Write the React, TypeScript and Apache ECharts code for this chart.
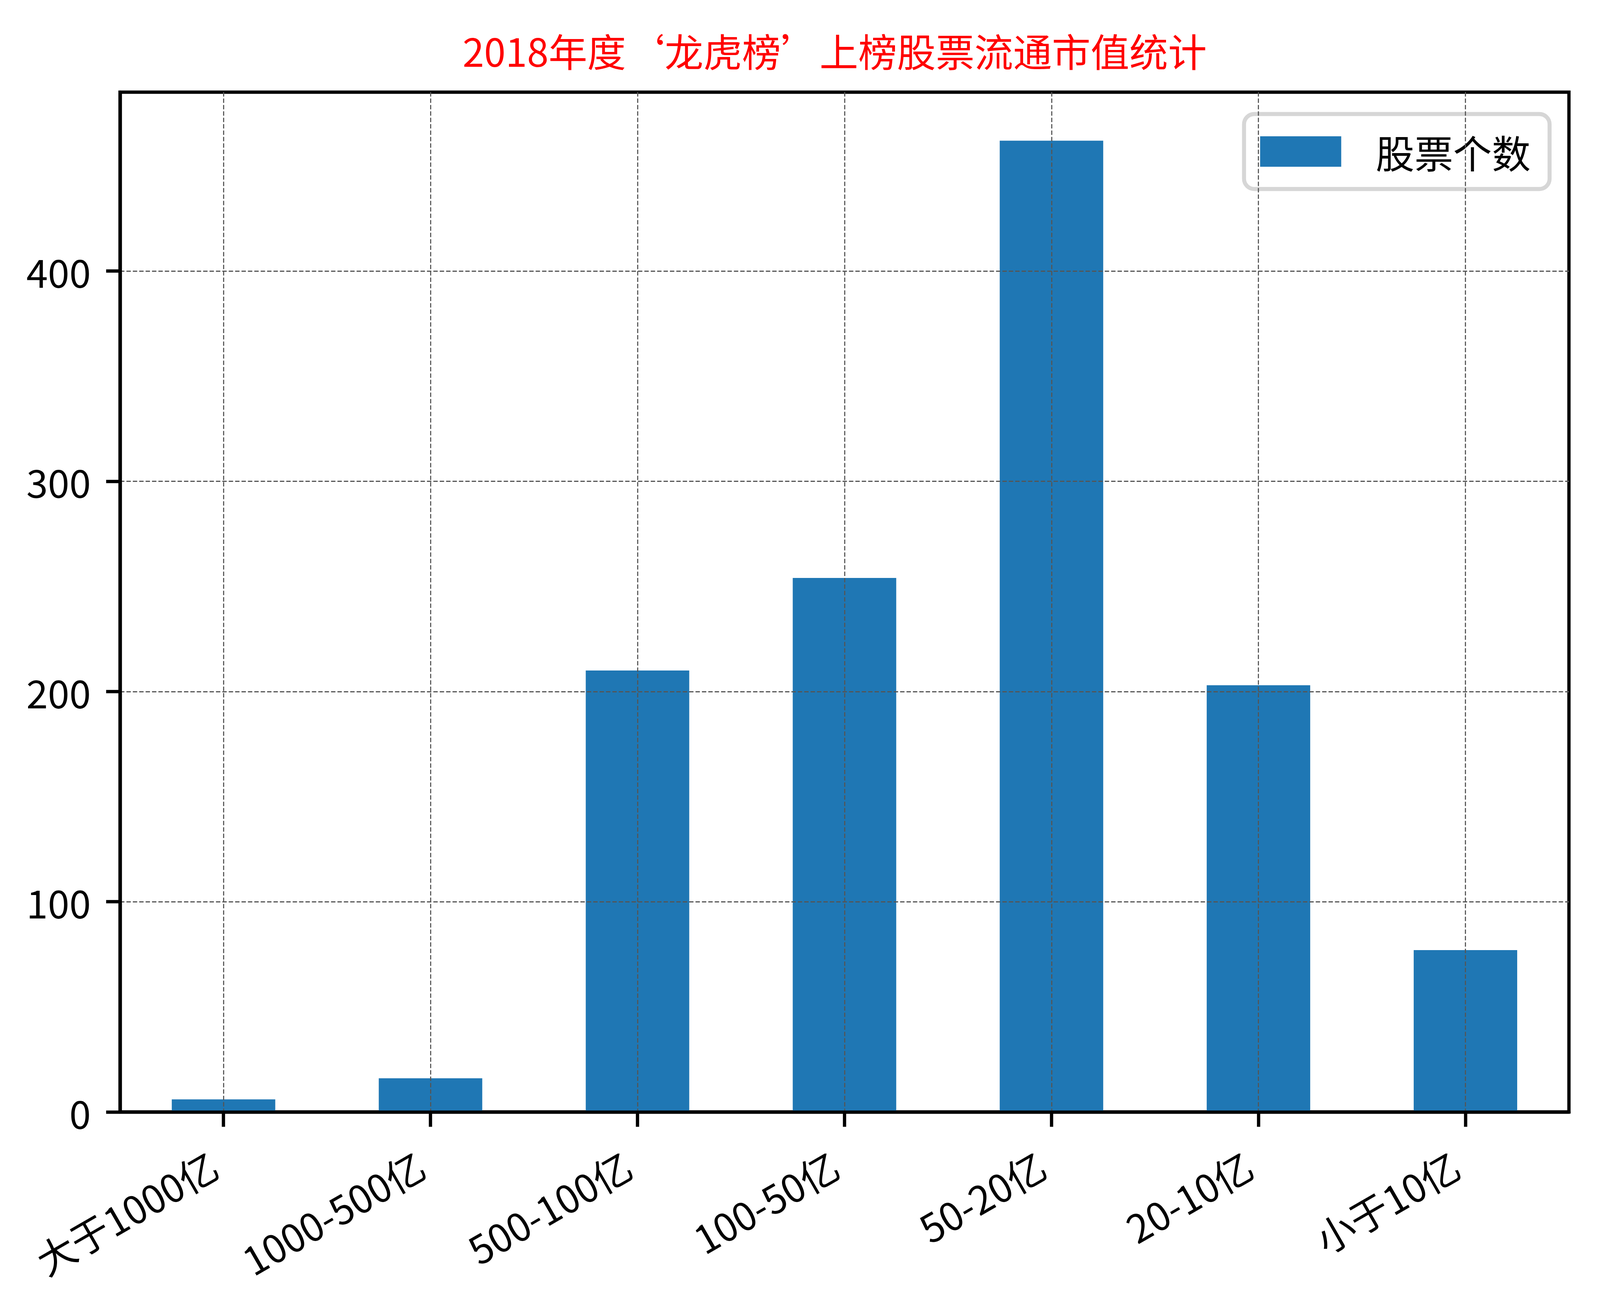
import React, { useEffect, useRef } from "react";
import * as echarts from "echarts";

const categories = ["大于1000亿", "1000-500亿", "500-100亿", "100-50亿", "50-20亿", "20-10亿", "小于10亿"];
const counts = [6, 16, 210, 254, 462, 203, 77];
const yTicks = [0, 100, 200, 300, 400];
const seriesName = "股票个数";
const titleText = "2018年度‘龙虎榜’上榜股票流通市值统计";

const FONT = "'Noto Sans CJK SC', 'Noto Sans', sans-serif";
const BASE_W = 4379;
const BASE_H = 3370;

export default function App() {
  const ref = useRef<HTMLDivElement>(null);
  const W = document.documentElement.clientWidth || window.innerWidth || BASE_W;
  const H = document.documentElement.clientHeight || window.innerHeight || BASE_H;
  const sx = W / BASE_W;
  const sy = H / BASE_H;
  useEffect(() => {
    if (!ref.current) return;
    const px = (v: number) => v * sx;
    const py = (v: number) => v * sy;
    const pf = (v: number) => v * Math.min(sx, sy);
    const FS = pf(106);
    const chart = echarts.init(ref.current, undefined, { renderer: "svg" });
    const gridStyle = { color: "#555555", width: pf(3), type: [pf(12), pf(5.5)] as any };
    chart.setOption({
      animation: false,
      backgroundColor: "#ffffff",
      textStyle: { fontFamily: FONT },
      title: {
        text: titleText,
        left: px(1266),
        top: py(78),
        padding: 0,
        textStyle: { color: "#ff0000", fontSize: FS, fontWeight: "normal", fontFamily: FONT, lineHeight: FS },
      },
      legend: {
        data: [seriesName],
        right: px(138),
        top: py(292),
        orient: "vertical",
        padding: [py(42), px(52), py(42), px(44)],
        itemWidth: px(222),
        itemHeight: py(78),
        icon: "rect",
        backgroundColor: "#ffffff",
        borderColor: "#d6d6d6",
        borderWidth: pf(11),
        borderRadius: pf(28),
        textStyle: { fontSize: FS, color: "#000", fontFamily: FONT, padding: [0, 0, 0, px(89)], lineHeight: py(108) },
      },
      grid: {
        left: px(328.5),
        right: px(85),
        top: py(236),
        bottom: py(522.5),
        show: true,
        borderColor: "#000",
        borderWidth: pf(9),
        backgroundColor: "transparent",
      },
      xAxis: {
        type: "category",
        data: categories,
        z: 5,
        boundaryGap: true,
        axisLine: { show: true, lineStyle: { color: "#000", width: pf(9) } },
        axisTick: { show: true, alignWithLabel: true, length: py(38), lineStyle: { color: "#000", width: pf(9) } },
        splitLine: { show: true, alignWithLabel: true, lineStyle: gridStyle },
        axisLabel: {
          rotate: 30,
          margin: py(112),
          padding: [0, px(31), 0, 0],
          fontSize: FS,
          color: "#000",
          fontFamily: FONT,
          interval: 0,
        },
      },
      yAxis: {
        type: "value",
        min: 0,
        max: 485.1,
        interval: 100,
        z: 5,
        axisLine: { show: true, lineStyle: { color: "#000", width: pf(9) } },
        axisTick: { show: true, length: px(38), lineStyle: { color: "#000", width: pf(9) }, customValues: yTicks },
        axisLabel: { fontSize: FS, color: "#000", fontFamily: FONT, margin: px(80), customValues: yTicks },
        splitLine: { show: true, lineStyle: gridStyle },
      },
      series: [
        {
          name: seriesName,
          type: "bar",
          data: counts,
          barWidth: "50%",
          itemStyle: { color: "#1f77b4" },
          z: 2,
        },
      ],
    });
    return () => chart.dispose();
  }, [sx, sy]);
  return <div ref={ref} style={{ position: "fixed", left: 0, top: 0, width: W, height: H }} />;
}
